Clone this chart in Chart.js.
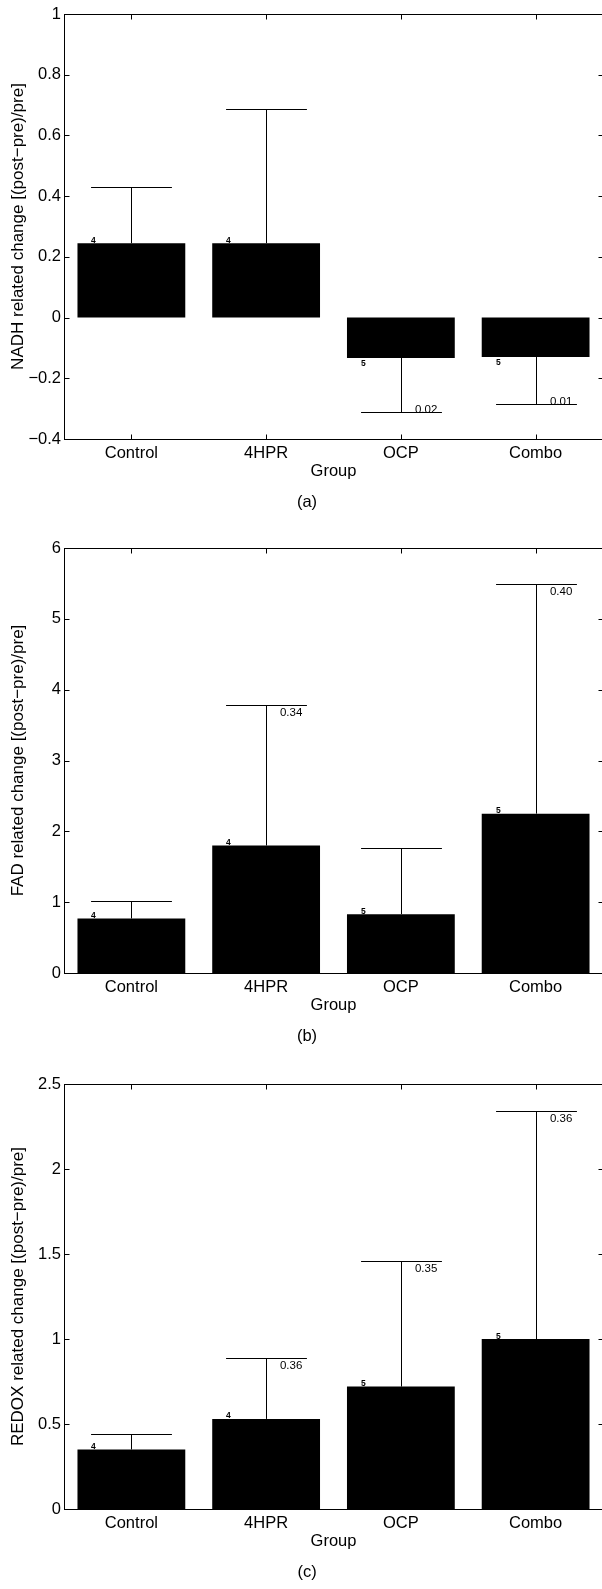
<!DOCTYPE html>
<html>
<head>
<meta charset="utf-8">
<script src="https://cdn.jsdelivr.net/npm/chart.js@4"></script>
<style>
    body { margin: 0; width: 602px; height: 1589px; overflow: hidden; background: #fff; }
    canvas { position: absolute; left: 0; }
</style>
</head>
<body>
<canvas id="nadhChart" width="610" height="520" style="top:0px"></canvas>
<canvas id="fadChart" width="610" height="520" style="top:534px"></canvas>
<canvas id="redoxChart" width="610" height="520" style="top:1070px"></canvas>
<script>
let groups = ["Control", "4HPR", "OCP", "Combo"];

// (a) NADH
let nadhMean = [0.245, 0.245, -0.133, -0.130];
let nadhErr = [0.431, 0.687, -0.310, -0.286];
let nadhN = ["4", "4", "5", "5"];
let nadhP = ["", "", "0.02", "0.01"];
let nadhTicks = [-0.4, -0.2, 0, 0.2, 0.4, 0.6, 0.8, 1];
let nadhTickLabels = ["\u22120.4", "\u22120.2", "0", "0.2", "0.4", "0.6", "0.8", "1"];

// (b) FAD
let fadMean = [0.77, 1.80, 0.83, 2.25];
let fadErr = [1.01, 3.78, 1.77, 5.49];
let fadN = ["4", "4", "5", "5"];
let fadP = ["", "0.34", "", "0.40"];
let fadTicks = [0, 1, 2, 3, 4, 5, 6];
let fadTickLabels = ["0", "1", "2", "3", "4", "5", "6"];

// (c) REDOX
let redoxMean = [0.35, 0.53, 0.72, 1.00];
let redoxErr = [0.44, 0.89, 1.46, 2.34];
let redoxN = ["4", "4", "5", "5"];
let redoxP = ["", "0.36", "0.35", "0.36"];
let redoxTicks = [0, 0.5, 1, 1.5, 2, 2.5];
let redoxTickLabels = ["0", "0.5", "1", "1.5", "2", "2.5"];

let fontName = "'Liberation Sans', Arial, sans-serif";

// frame, inward ticks, error bars and text labels
let extrasPlugin = {
    id: "extras",
    afterDatasetsDraw: function (chart, args, opts) {
        let ctx = chart.ctx;
        let area = chart.chartArea;
        let xs = chart.scales.x;
        let ys = chart.scales.y;
        let mean = chart.data.datasets[0].data;
        let step = xs.getPixelForValue(1) - xs.getPixelForValue(0);

        ctx.save();
        ctx.strokeStyle = "#000";
        ctx.fillStyle = "#000";
        ctx.lineWidth = 1;

        for (let i = 0; i < mean.length; i++) {
            let cx = Math.round(xs.getPixelForValue(i)) + 0.5;
            let yBar = ys.getPixelForValue(mean[i]);
            let yEnd = Math.round(ys.getPixelForValue(opts.err[i])) + 0.5;
            let half = 0.3 * step;

            // error bar
            ctx.beginPath();
            ctx.moveTo(cx, yBar);
            ctx.lineTo(cx, yEnd);
            ctx.moveTo(cx - half, yEnd);
            ctx.lineTo(cx + half, yEnd);
            ctx.stroke();

            // sample count
            ctx.font = "bold 8.5px " + fontName;
            ctx.textAlign = "left";
            if (mean[i] >= 0) {
                ctx.textBaseline = "alphabetic";
                ctx.fillText(opts.n[i], cx - half, yBar - 0.5);
            } else {
                ctx.textBaseline = "top";
                ctx.fillText(opts.n[i], cx - half, yBar + 1);
            }

            // p value
            if (opts.p[i] !== "") {
                ctx.font = "11.5px " + fontName;
                if (opts.err[i] >= 0) {
                    ctx.textBaseline = "top";
                    ctx.fillText(opts.p[i], cx + 0.1 * step, yEnd + 2);
                } else {
                    ctx.textBaseline = "alphabetic";
                    ctx.fillText(opts.p[i], cx + 0.1 * step, yEnd);
                }
            }
        }

        // box
        let l = Math.round(area.left) + 0.5;
        let r = Math.round(area.right) + 0.5;
        let t = Math.round(area.top) + 0.5;
        let b = Math.round(area.bottom) + 0.5;
        ctx.strokeRect(l, t, r - l, b - t);

        // inward ticks
        ctx.beginPath();
        ys.ticks.forEach(function (tk) {
            let ty = Math.round(ys.getPixelForValue(tk.value)) + 0.5;
            ctx.moveTo(l, ty);
            ctx.lineTo(l + 5, ty);
            ctx.moveTo(r, ty);
            ctx.lineTo(r - 5, ty);
        });
        for (let i = 0; i < mean.length; i++) {
            let tx = Math.round(xs.getPixelForValue(i)) + 0.5;
            ctx.moveTo(tx, b);
            ctx.lineTo(tx, b - 5);
            ctx.moveTo(tx, t);
            ctx.lineTo(tx, t + 5);
        }
        ctx.stroke();

        // panel caption
        ctx.font = "16.5px " + fontName;
        ctx.textAlign = "center";
        ctx.textBaseline = "middle";
        ctx.fillText(opts.caption, 307, area.bottom + 63);

        ctx.restore();
    }
};

function makeChart(id, mean, err, n, p, tickValues, tickLabels, yTitle, caption) {
    let ctx = document.getElementById(id).getContext("2d");
    return new Chart(ctx, {
        type: "bar",
        data: {
            labels: groups,
            datasets: [{
                data: mean,
                backgroundColor: "#000",
                borderWidth: 0,
                barPercentage: 0.8,
                categoryPercentage: 1.0
            }]
        },
        options: {
            responsive: false,
            animation: false,
            devicePixelRatio: 1,
            layout: { padding: { top: 14, right: 7, left: 0, bottom: 0 } },
            plugins: {
                legend: { display: false },
                tooltip: { enabled: false },
                extras: { err: err, n: n, p: p, caption: caption }
            },
            scales: {
                x: {
                    grid: { display: false, drawTicks: false },
                    border: { display: false },
                    ticks: { color: "#000", font: { family: fontName, size: 16.5 }, padding: 5, maxRotation: 0 },
                    title: { display: true, text: "Group", color: "#000", font: { family: fontName, size: 16.5 }, padding: { top: 0, bottom: 39 } },
                    afterFit: function (scale) { scale.height = 81; }
                },
                y: {
                    min: tickValues[0],
                    max: tickValues[tickValues.length - 1],
                    grid: { display: false, drawTicks: false },
                    border: { display: false },
                    afterBuildTicks: function (scale) {
                        scale.ticks = tickValues.map(function (v) { return { value: v }; });
                    },
                    ticks: {
                        color: "#000",
                        font: { family: fontName, size: 16.5 },
                        padding: 3,
                        callback: function (value, index) { return tickLabels[index]; }
                    },
                    title: { display: true, text: yTitle, color: "#000", font: { family: fontName, size: 17 }, padding: { top: 8, bottom: 0 } },
                    afterFit: function (scale) { scale.width = 64; }
                }
            }
        },
        plugins: [extrasPlugin]
    });
}

makeChart("nadhChart", nadhMean, nadhErr, nadhN, nadhP, nadhTicks, nadhTickLabels,
    "NADH related change [(post\u2212pre)/pre]", "(a)");
makeChart("fadChart", fadMean, fadErr, fadN, fadP, fadTicks, fadTickLabels,
    "FAD related change [(post\u2212pre)/pre]", "(b)");
makeChart("redoxChart", redoxMean, redoxErr, redoxN, redoxP, redoxTicks, redoxTickLabels,
    "REDOX related change [(post\u2212pre)/pre]", "(c)");
</script>
</body>
</html>
